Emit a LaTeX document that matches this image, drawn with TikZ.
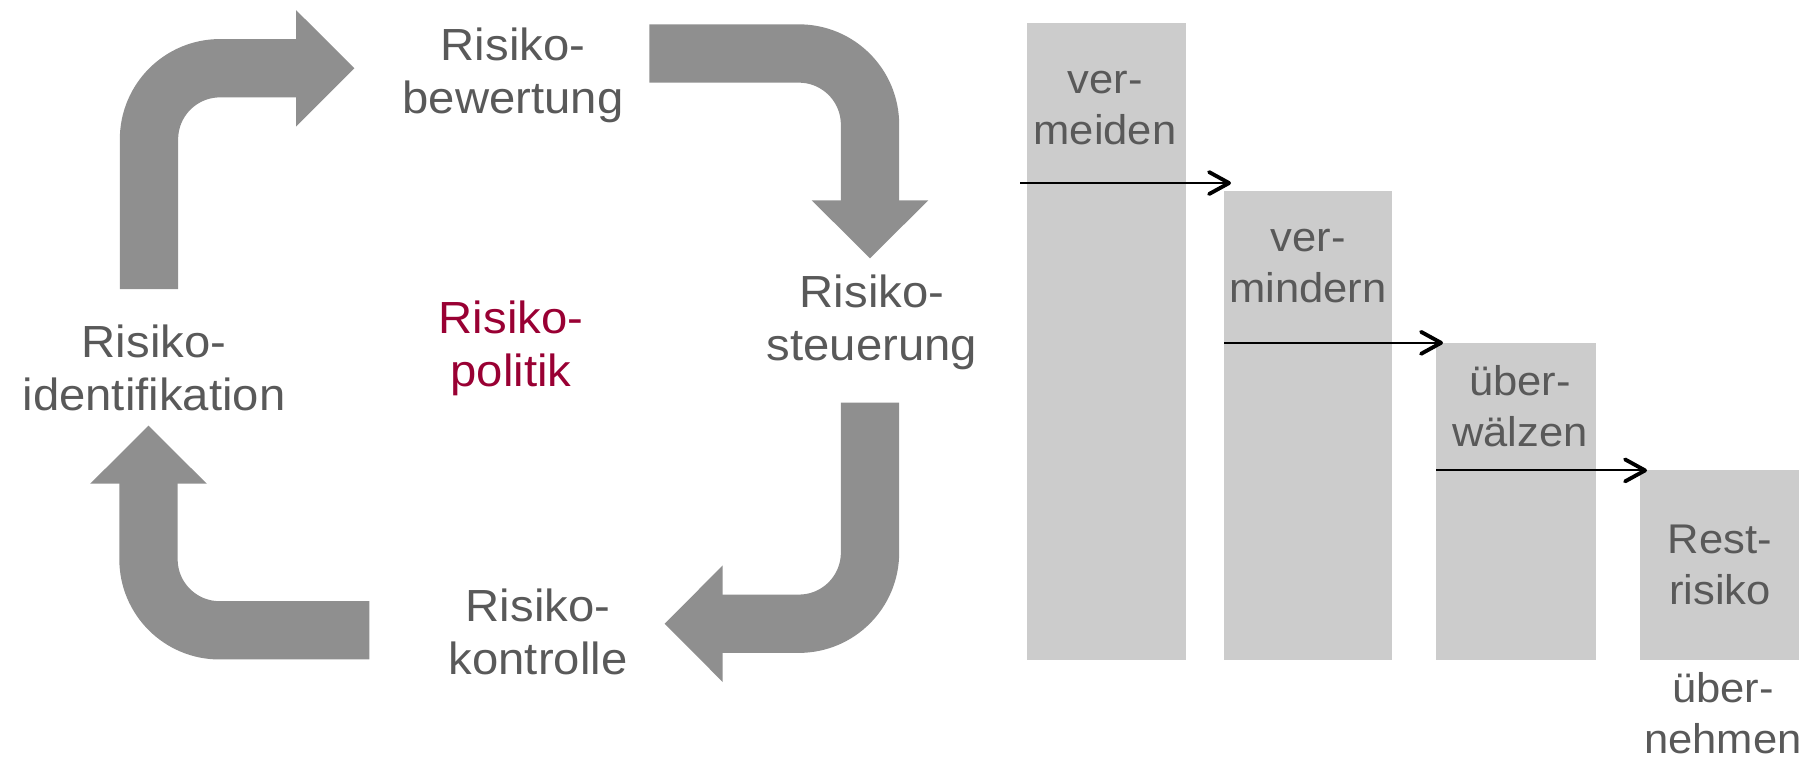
\documentclass[tikz,border=0pt]{standalone}
\usepackage{fontspec}
\setmainfont{Liberation Sans}[FakeStretch=1.05]
\usepackage{tikz}
\usetikzlibrary{arrows.meta}

\definecolor{pfeilgrau}{RGB}{143,143,143}
\definecolor{balkengrau}{RGB}{204,204,204}
\definecolor{textgrau}{RGB}{89,89,89}
\definecolor{weinrot}{RGB}{153,0,51}

\begin{document}
\begin{tikzpicture}[x=0.01cm, y=-0.01cm,
        band/.style={draw=pfeilgrau, line width=0.583cm, rounded corners=0.71cm},
        spitze/.style={fill=pfeilgrau},
        phase/.style={text=textgrau, align=center, anchor=base, inner sep=0pt, font=\fontsize{12.8}{14.8}\selectfont},
        balken/.style={fill=balkengrau, anchor=south west, inner sep=0pt, outer sep=0pt},
        mass/.style={text=textgrau, align=center, anchor=base, inner sep=0pt, font=\fontsize{11.8}{14.5}\selectfont},
        schritt/.style={-{Straight Barb[round, length=0.2cm, width=0.22cm, line width=1.1pt]}, line width=0.6pt}]
        \useasboundingbox (0,0) rectangle (1814,759);

        % Kreislauf
        \draw[band] (149,289) |- (297,68.2);
        \fill[spitze] (296,10) -- (354.3,68.2) -- (296,126.5) -- cycle;
        \draw[band] (649.3,53.5) -| (870,201.3);
        \fill[spitze] (811.7,200.3) -- (870,258.3) -- (928.3,200.3) -- cycle;
        \draw[band] (870,402.7) |- (721.7,623.7);
        \fill[spitze] (722.7,565.4) -- (664.7,623.7) -- (722.7,682) -- cycle;
        \draw[band] (369.3,630.3) -| (148.5,482.7);
        \fill[spitze] (90.2,483.7) -- (148.5,425.7) -- (206.8,483.7) -- cycle;

        \node[phase] (bew) at (513,113) {Risiko-\\bewertung};
        \node[phase] (steu) at (872,360) {Risiko-\\steuerung};
        \node[phase] (kontr) at (538,674) {Risiko-\\kontrolle};
        \node[phase] (ident) at (154,410) {Risiko-\\identifikation};
        \node[phase, text=weinrot] (pol) at (511,386) {Risiko-\\politik};

        % Balken
        \node[balken, minimum width=1.59cm, minimum height=6.36cm] (b1) at (1027,659.5) {};
        \node[balken, minimum width=1.68cm, minimum height=4.68cm] (b2) at (1224,659.5) {};
        \node[balken, minimum width=1.60cm, minimum height=3.165cm] (b3) at (1436,659.5) {};
        \node[balken, minimum width=1.59cm, minimum height=1.89cm] (b4) at (1640,659.5) {};

        \node[mass] (vermeiden) at (1105,144) {ver-\\meiden};
        \node[mass] (vermindern) at (1308,302) {ver-\\mindern};
        \node[mass] (ueberwaelzen) at (1520,446) {über-\\wälzen};
        \node[mass] (rest) at (1720,604) {Rest-\\risiko};
        \node[mass] (uebernehmen) at (1723,753) {über-\\nehmen};

        \coordinate (e1) at ([xshift=0.07cm, yshift=0.082cm]b2.north west);
        \coordinate (s1) at (1020,183.3);
        \draw[schritt] (e1 -| s1) -- (e1);
        \draw[schritt] (b3.north west -| b2.west) -- ([xshift=0.07cm]b3.north west);
        \draw[schritt] (b4.north west -| b3.west) -- ([xshift=0.07cm]b4.north west);
    \end{tikzpicture}
\end{document}
